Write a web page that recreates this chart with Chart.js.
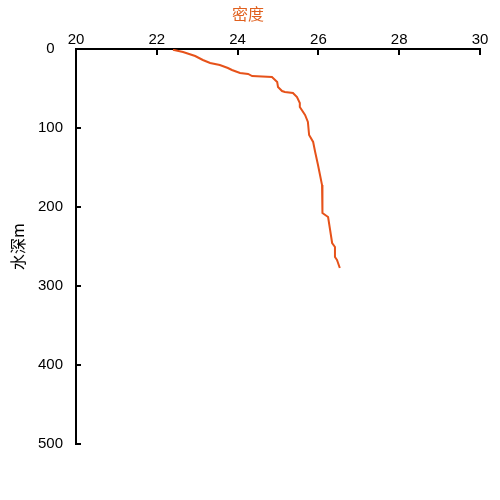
<!DOCTYPE html>
<html>
<head>
<meta charset="utf-8">
<script src="https://cdn.jsdelivr.net/npm/chart.js@4/dist/chart.umd.min.js"></script>
<style>
  html, body { margin: 0; padding: 0; background: #fff; }
  #wrap { width: 500px; height: 500px; }
</style>
</head>
<body>
<div id="wrap"><canvas id="c" width="500" height="500"></canvas></div>
<script>
const density = [22.40, 22.65, 22.95, 23.14, 23.32, 23.56, 23.76, 23.86, 24.06, 24.26, 24.36, 24.85, 24.98, 25.00, 25.10, 25.17, 25.37, 25.47, 25.54, 25.54, 25.67, 25.74, 25.77, 25.87, 25.92, 25.99, 26.04, 26.09, 26.09, 26.11, 26.24, 26.29, 26.34, 26.41, 26.41, 26.46, 26.53];
const depth = [1, 3.8, 8.9, 13.9, 17.7, 20.3, 24.1, 26.6, 30.4, 31.6, 34.2, 35.4, 41.8, 48.1, 53.2, 54.4, 55.7, 60.8, 68.4, 73.4, 83.5, 92.4, 108.9, 117.7, 130.4, 146.8, 159.5, 172.2, 178.5, 207.6, 212.7, 229.1, 245.6, 250.6, 263.3, 267.1, 277.2];
const xTitle = '密度';
const yTitle = '水深m';

const points = density.map((d, i) => ({ x: d, y: depth[i] }));

const inwardTicks = {
  id: 'inwardTicks',
  afterDraw(chart) {
    const ctx = chart.ctx;
    const xs = chart.scales.x, ys = chart.scales.y;
    const area = chart.chartArea;
    ctx.save();
    ctx.strokeStyle = '#000';
    ctx.lineWidth = 2;
    ctx.beginPath();
    xs.ticks.forEach(t => {
      const px = Math.round(xs.getPixelForValue(t.value));
      ctx.moveTo(px, area.top);
      ctx.lineTo(px, area.top + 6);
    });
    ys.ticks.forEach(t => {
      const py = Math.round(ys.getPixelForValue(t.value));
      ctx.moveTo(area.left, py);
      ctx.lineTo(area.left + 5, py);
    });
    ctx.stroke();
    ctx.restore();
  }
};

new Chart(document.getElementById('c'), {
  type: 'scatter',
  data: {
    datasets: [{
      data: points,
      showLine: true,
      borderColor: '#E6521A',
      backgroundColor: '#E6521A',
      borderWidth: 2,
      pointRadius: 0,
      tension: 0
    }]
  },
  options: {
    responsive: false,
    animation: false,
    layout: { padding: { left: 16, right: 20, top: 0, bottom: 56 } },
    plugins: {
      legend: { display: false },
      tooltip: { enabled: false },
      title: {
        display: true,
        text: xTitle,
        color: '#E0601E',
        font: { family: '"Noto Sans CJK SC", sans-serif', size: 16, weight: 'normal' },
        padding: { top: 4, bottom: 0 }
      }
    },
    scales: {
      x: {
        type: 'linear',
        position: 'top',
        min: 20, max: 30,
        ticks: {
          stepSize: 2,
          color: '#000',
          padding: 0,
          font: { family: '"Liberation Sans", Arial, sans-serif', size: 15 }
        },
        grid: { display: false, drawTicks: false },
        border: { display: true, color: '#000', width: 2 },
        afterFit(scale) { scale.height = 25.8; }
      },
      y: {
        type: 'linear',
        position: 'left',
        reverse: true,
        min: 0, max: 500,
        ticks: {
          stepSize: 100,
          color: '#000',
          padding: 13,
          crossAlign: 'center',
          font: { family: '"Liberation Sans", Arial, sans-serif', size: 15 }
        },
        grid: { display: false, drawTicks: false },
        border: { display: true, color: '#000', width: 2 },
        title: {
          display: true,
          text: yTitle,
          color: '#000',
          padding: { top: -8, bottom: 0 },
          font: { family: '"Noto Sans CJK SC", sans-serif', size: 16, weight: 'normal' }
        },
        afterFit(scale) { scale.width = 60; }
      }
    }
  },
  plugins: [inwardTicks]
});
</script>
</body>
</html>
